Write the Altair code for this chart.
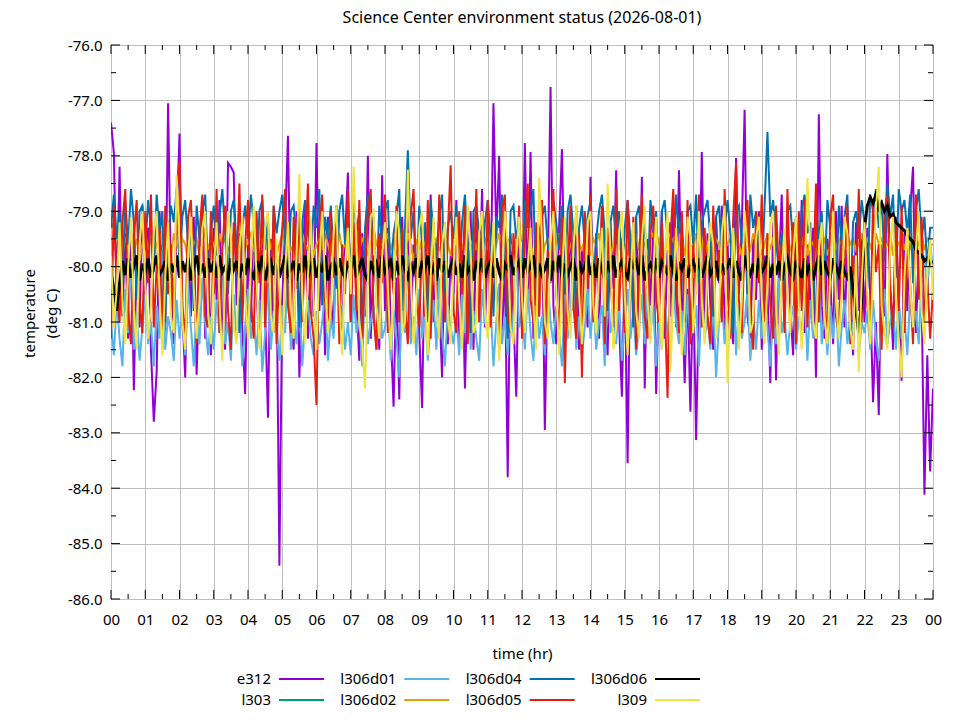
import altair as alt
import pandas as pd

# sample times in hours (5-minute samples over one day)
HOURS = [i / 12 for i in range(289)]

e312 = [
    -77.4, -77.95, -80.6, -78.2, -80.9, -79.4, -81.3, -79.1, -82.23, -79.8, -81.1, -78.9,
    -80.7, -79.3, -81.5, -82.8, -81.9, -79.0, -80.4, -81.2, -77.05, -80.3, -81.4, -79.2,
    -77.6, -80.8, -82.0, -79.5, -80.9, -79.1, -81.95, -80.2, -78.9, -81.3, -79.7, -81.6,
    -79.3, -80.6, -78.8, -81.2, -81.5, -78.13, -78.2, -78.3, -80.7, -79.4, -81.1, -82.3,
    -79.6, -81.0, -79.2, -80.5, -81.4, -78.9, -80.8, -82.73, -79.5, -81.2, -80.0, -85.4,
    -80.6, -79.3, -77.64, -80.9, -81.5, -79.0, -82.0, -80.3, -78.8, -81.3, -79.6, -80.9,
    -77.77, -80.8, -79.4, -81.6, -79.1, -80.5, -81.2, -78.9, -80.7, -81.4, -79.5, -78.3,
    -81.0, -79.2, -80.6, -81.7, -79.4, -80.9, -78.0, -81.3, -79.8, -80.5, -81.5, -78.35,
    -80.8, -79.3, -81.1, -82.53, -80.2, -82.4, -79.1, -80.7, -78.9, -81.3, -79.6, -80.4,
    -81.2, -82.55, -79.4, -80.9, -78.7, -81.0, -79.5, -80.6, -82.0, -79.2, -81.4, -79.8,
    -80.5, -78.8, -81.3, -79.6, -82.2, -80.1, -79.0, -81.5, -79.3, -80.8, -78.6, -81.1,
    -79.7, -80.4, -77.05, -79.5, -78.0, -81.2, -80.0, -83.8, -79.4, -80.9, -82.35, -79.6,
    -80.8, -77.77, -80.6, -77.93, -81.3, -79.5, -80.9, -79.0, -82.95, -80.2, -76.76, -80.7,
    -81.4, -79.3, -77.88, -80.6, -81.2, -79.1, -80.8, -78.9, -81.5, -79.7, -80.3, -81.1,
    -78.38, -80.9, -79.4, -81.3, -79.0, -80.6, -81.6, -79.2, -80.4, -78.26, -81.0, -82.35,
    -80.0, -83.55, -79.6, -80.8, -79.1, -81.2, -78.38, -82.2, -79.5, -80.7, -79.3, -82.3,
    -80.4, -79.0, -81.3, -79.7, -80.9, -78.8, -81.1, -78.26, -80.5, -82.1, -80.4, -82.62,
    -80.2, -83.13, -80.6, -77.93, -81.0, -79.4, -80.7, -81.5, -79.1, -80.3, -78.9, -81.2,
    -79.6, -80.8, -81.4, -78.04, -80.5, -79.3, -77.17, -80.9, -81.3, -79.5, -80.6, -79.0,
    -81.5, -79.8, -80.4, -82.1, -79.2, -82.05, -80.1, -78.7, -81.0, -79.4, -80.8, -81.6,
    -79.1, -80.5, -78.8, -81.2, -79.6, -80.9, -79.3, -82.0, -77.25, -80.7, -81.3, -79.5,
    -80.2, -81.4, -79.0, -80.6, -78.9, -81.1, -79.7, -80.4, -81.6, -79.2, -80.8, -79.5,
    -81.0, -79.3, -80.5, -82.45, -81.0, -82.68, -79.6, -80.9, -77.97, -80.3, -81.5, -79.1,
    -80.6, -82.06, -79.4, -80.8, -79.0, -78.2, -81.2, -79.7, -80.5, -84.12, -81.6, -83.7,
    -82.2,
]

# l303 only reports at the very start of the day
l303 = [-79.2, -79.3]

l306d01 = [
    -81.0, -81.6, -80.6, -81.3, -81.8, -80.4, -81.2, -79.9, -81.5, -80.8, -81.7, -81.1,
    -80.5, -81.4, -81.0, -81.8, -80.7, -81.3, -79.7, -81.5, -80.9, -81.2, -81.7, -80.6,
    -81.3, -80.8, -81.6, -80.3, -81.1, -81.8, -80.7, -81.4, -80.2, -81.0, -81.6, -80.9,
    -81.5, -80.6, -81.2, -79.8, -81.4, -81.0, -81.7, -80.5, -81.3, -80.8, -81.8, -81.1,
    -80.4, -81.3, -80.9, -81.6, -80.6, -81.9, -81.2, -80.3, -81.5, -80.8, -81.1, -81.7,
    -80.7, -81.2, -79.9, -81.5, -80.9, -81.4, -80.5, -81.8, -81.0, -80.6, -81.3, -81.6,
    -80.8, -81.4, -81.0, -80.4, -81.7, -80.9, -81.3, -79.6, -81.2, -80.7, -81.5, -81.0,
    -81.6, -80.5, -81.2, -80.9, -81.8, -80.3, -81.4, -81.0, -80.7, -81.5, -80.2, -81.3,
    -81.1, -80.6, -81.7, -80.8, -81.3, -82.0, -80.5, -81.2, -79.8, -81.4, -80.9, -81.6,
    -80.4, -81.3, -80.8, -81.7, -81.0, -80.6, -81.5, -80.2, -81.2, -81.8, -80.7, -81.1,
    -81.4, -80.9, -81.6, -80.5, -81.2, -79.9, -81.5, -80.8, -81.3, -81.7, -80.4, -81.0,
    -81.2, -80.7, -81.8, -81.0, -80.3, -81.4, -80.9, -81.6, -80.6, -81.3, -79.7, -81.1,
    -80.8, -81.5, -80.4, -81.2, -81.7, -80.6, -81.3, -80.9, -81.6, -80.2, -81.0, -81.4,
    -80.7, -81.2, -81.8, -80.5, -81.3, -80.8, -79.8, -81.5, -80.9, -81.6, -81.1, -80.4,
    -81.3, -80.6, -81.5, -81.0, -80.7, -81.8, -80.3, -81.2, -80.9, -81.4, -80.6, -81.7,
    -81.0, -80.4, -81.3, -80.8, -81.6, -81.1, -80.5, -81.4, -79.9, -81.2, -80.7, -81.8,
    -80.9, -81.5, -80.6, -81.2, -81.7, -80.3, -81.0, -81.4, -80.8, -81.6, -80.5, -81.3,
    -81.1, -80.7, -81.8, -80.4, -81.3, -80.9, -81.5, -80.6, -82.0, -81.0, -80.5, -81.4,
    -80.8, -81.2, -79.9, -81.6, -80.7, -81.3, -81.0, -80.4, -81.7, -80.9, -81.5, -80.6,
    -81.3, -80.5, -81.1, -81.8, -80.8, -81.4, -80.2, -81.2, -80.9, -81.6, -81.0, -80.7,
    -81.5, -80.9, -81.2, -80.4, -81.7, -80.6, -81.3, -81.0, -79.8, -81.4, -80.8, -81.6,
    -80.7, -81.3, -80.5, -81.8, -81.1, -80.6, -81.4, -80.9, -81.2, -80.3, -81.6, -81.0,
    -81.2, -80.8, -81.5, -80.6, -81.3, -81.7, -80.9, -80.4, -81.4, -81.0, -80.7, -81.5,
    -80.6, -81.3, -80.9, -81.6, -80.5, -81.1, -80.8, -81.4, -80.2, -79.8, -80.5, -79.6,
    -80.0,
]

l306d02 = [
    -79.5, -79.7, -79.4, -79.6, -79.8, -79.5, -79.6, -79.4, -79.7, -79.5, -79.9, -79.6,
    -79.4, -79.7, -79.5, -79.8, -79.6, -79.4, -79.6, -79.7, -79.5, -79.8, -79.4, -79.6,
    -79.7, -79.5, -79.6, -79.9, -79.4, -79.6, -79.5, -79.8, -79.6, -79.3, -79.7, -79.5,
    -79.6, -79.8, -79.4, -79.6, -79.5, -79.7, -79.6, -79.4, -79.8, -79.5, -79.6, -79.7,
    -79.5, -79.4, -79.7, -79.6, -79.8, -79.5, -79.6, -79.3, -79.7, -79.5, -79.8, -79.6,
    -79.4, -79.6, -79.5, -79.7, -79.6, -79.9, -79.5, -79.4, -79.6, -79.7, -79.5, -79.8,
    -79.6, -79.5, -79.7, -79.4, -79.6, -79.8, -79.5, -79.6, -79.4, -79.7, -79.6, -79.5,
    -79.8, -79.6, -79.4, -79.7, -79.5, -79.6, -79.8, -79.5, -79.3, -79.6, -79.7, -79.5,
    -79.6, -79.4, -79.7, -79.5, -79.8, -79.6, -79.5, -79.7, -79.4, -79.6, -79.9, -79.5,
    -79.7, -79.5, -79.6, -79.4, -79.8, -79.6, -79.5, -79.7, -79.6, -79.4, -79.6, -79.8,
    -79.5, -79.6, -79.4, -79.7, -79.5, -79.8, -79.6, -79.5, -79.7, -79.4, -79.6, -79.5,
    -79.7, -79.5, -79.8, -79.6, -79.4, -79.6, -79.7, -79.5, -79.6, -79.8, -79.4, -79.6,
    -79.5, -79.0, -78.9, -79.6, -79.8, -80.4, -80.8, -79.9, -79.6, -79.5, -79.7, -79.4,
    -79.6, -79.4, -79.7, -79.5, -79.8, -79.6, -79.5, -79.3, -79.6, -79.7, -79.5, -79.6,
    -79.8, -79.5, -79.6, -79.4, -79.7, -79.6, -79.5, -79.8, -79.6, -79.4, -79.7, -79.5,
    -79.6, -79.8, -79.5, -79.6, -79.4, -79.7, -79.5, -79.6, -79.8, -79.5, -79.4, -79.7,
    -79.5, -79.6, -79.8, -79.4, -79.6, -79.5, -79.7, -79.6, -79.4, -79.8, -79.5, -79.6,
    -79.7, -79.4, -79.6, -79.5, -79.8, -79.6, -79.4, -79.7, -79.5, -79.6, -79.8, -79.5,
    -79.6, -79.5, -79.7, -79.4, -79.6, -79.8, -79.5, -79.6, -79.7, -79.4, -79.6, -79.5,
    -79.8, -79.6, -79.4, -79.7, -79.5, -79.6, -79.8, -79.5, -79.6, -79.4, -79.7, -79.6,
    -79.5, -79.7, -79.6, -79.4, -79.8, -79.5, -79.6, -79.7, -79.4, -79.6, -79.5, -79.8,
    -79.6, -79.4, -79.7, -79.5, -79.6, -79.8, -79.4, -79.6, -79.5, -79.7, -79.6, -79.4,
    -79.7, -79.5, -79.6, -79.8, -79.4, -79.6, -79.5, -79.7, -79.6, -79.4, -79.8, -79.5,
    -79.6, -79.5, -79.7, -79.4, -79.6, -79.8, -79.5, -79.6, -79.4, -79.7, -79.5, -79.6,
    -79.6,
]

l306d04 = [
    -79.3, -78.7, -79.5, -79.0, -80.3, -78.8, -79.6, -78.6, -79.2, -80.6, -79.0, -78.9,
    -79.7, -78.8, -79.3, -80.1, -78.7, -79.4, -79.0, -81.0, -79.5, -78.9, -79.2, -78.6,
    -80.0, -79.1, -78.8, -79.6, -79.3, -80.8, -78.9, -79.5, -79.0, -78.7, -80.2, -79.4,
    -78.9, -79.8, -79.1, -78.6, -79.4, -80.5, -79.0, -78.8, -79.6, -81.2, -79.3, -78.9,
    -79.5, -78.7, -79.2, -80.4, -79.0, -78.8, -79.7, -79.1, -80.9, -78.9, -79.4, -79.0,
    -78.7, -79.6, -80.3, -79.0, -78.9, -79.5, -81.1, -79.2, -78.8, -79.4, -80.0, -78.9,
    -79.3, -78.6, -80.7, -79.1, -79.5, -78.9, -79.8, -80.4, -79.0, -78.7, -79.6, -79.2,
    -80.1, -78.8, -79.4, -79.0, -81.3, -79.3, -78.7, -79.5, -79.1, -80.5, -78.9, -79.6,
    -79.0, -78.8, -80.2, -79.4, -79.1, -78.6, -80.8, -79.3, -77.9, -79.5, -79.0, -80.4,
    -78.9, -79.6, -79.2, -81.0, -78.8, -79.4, -79.9, -79.1, -78.7, -80.6, -79.3, -79.0,
    -79.5, -78.9, -80.3, -79.2, -78.7, -79.6, -81.2, -79.0, -78.9, -79.4, -80.1, -79.2,
    -78.8, -79.5, -80.9, -79.1, -79.3, -78.7, -79.8, -81.3, -79.0, -78.9, -79.5, -79.2,
    -80.4, -78.8, -79.3, -79.0, -78.6, -80.7, -79.4, -79.1, -78.9, -79.6, -80.2, -78.8,
    -79.2, -79.7, -78.9, -80.5, -79.0, -78.7, -79.4, -81.0, -79.3, -78.9, -79.6, -79.1,
    -78.8, -80.3, -79.5, -79.0, -78.7, -79.4, -80.8, -79.2, -78.9, -79.6, -79.0, -80.1,
    -79.3, -78.8, -79.5, -81.1, -79.1, -78.9, -79.7, -79.2, -80.4, -78.8, -79.3, -79.0,
    -80.6, -79.0, -78.8, -79.5, -79.2, -80.2, -78.7, -79.4, -79.1, -81.0, -79.0, -78.9,
    -79.6, -78.7, -80.3, -79.2, -79.0, -78.8, -79.5, -80.9, -79.1, -78.9, -79.7, -79.3,
    -78.8, -79.4, -81.2, -79.0, -78.9, -79.6, -79.2, -80.5, -78.7, -79.3, -79.0, -79.8,
    -80.2, -78.9, -77.57, -79.1, -78.8, -79.5, -80.1, -79.4, -80.6, -79.0, -78.9, -79.6,
    -79.1, -80.8, -79.0, -78.7, -79.4, -79.2, -81.0, -78.9, -79.5, -79.0, -80.3, -78.8,
    -79.3, -79.0, -80.5, -78.9, -79.6, -79.1, -78.7, -80.9, -79.2, -79.0, -79.5, -78.8,
    -79.2, -80.4, -78.7, -79.0, -78.6, -79.3, -78.8, -79.9, -78.5, -79.1, -78.7, -80.2,
    -78.6, -79.0, -78.8, -79.4, -78.7, -80.3, -79.0, -78.6, -79.5, -79.1, -80.0, -79.3,
    -79.3,
]

l306d05 = [
    -81.3, -78.9, -80.4, -81.0, -79.2, -78.6, -80.8, -81.4, -79.5, -78.8, -80.6, -81.2,
    -79.0, -80.3, -78.7, -81.1, -80.0, -79.3, -81.5, -78.9, -80.5, -79.6, -81.0, -78.6,
    -78.1, -80.7, -81.3, -79.1, -78.8, -80.2, -81.4, -79.4, -78.7, -80.9, -81.1, -79.0,
    -80.5, -78.6, -81.2, -79.7, -78.9, -80.8, -81.5, -79.2, -80.1, -78.5, -81.0, -79.6,
    -78.8, -80.6, -81.3, -79.0, -80.3, -78.7, -81.1, -79.5, -80.9, -78.9, -81.4, -80.0,
    -79.3, -78.6, -80.7, -81.2, -79.1, -80.4, -78.8, -81.0, -79.7, -78.5, -80.8, -81.3,
    -82.5, -79.4, -78.7, -80.6, -81.1, -79.0, -80.2, -78.9, -81.4, -79.6, -80.5, -78.6,
    -81.0, -79.2, -80.8, -78.8, -81.3, -80.1, -79.0, -78.6, -80.9, -81.5, -79.4, -80.3,
    -78.7, -81.2, -79.8, -80.5, -78.9, -81.0, -79.3, -80.7, -81.4, -79.1, -78.6, -80.4,
    -81.1, -79.5, -80.9, -78.8, -81.3, -79.2, -80.6, -78.7, -80.1, -81.0, -79.4, -78.17,
    -80.8, -81.2, -79.0, -80.5, -78.9, -81.4, -79.7, -80.2, -78.6, -81.0, -79.3, -80.7,
    -78.8, -81.1, -79.5, -80.4, -81.5, -79.0, -78.7, -80.8, -81.2, -79.4, -80.1, -78.9,
    -81.3, -79.6, -78.5, -80.6, -81.0, -79.2, -80.9, -78.8, -81.4, -79.7, -80.3, -78.6,
    -80.5, -81.2, -79.1, -82.1, -80.0, -78.9, -80.7, -81.3, -79.4, -82.0, -79.0, -80.4,
    -78.7, -81.0, -79.8, -80.6, -78.9, -81.4, -79.3, -80.2, -81.1, -78.6, -80.8, -79.5,
    -81.2, -78.8, -80.4, -79.1, -81.5, -80.0, -78.7, -80.9, -81.3, -79.4, -78.9, -80.6,
    -81.0, -79.2, -80.7, -82.37, -79.5, -78.6, -80.3, -81.2, -79.0, -80.8, -78.8, -81.4,
    -79.6, -80.5, -78.7, -81.1, -79.3, -80.9, -81.4, -78.9, -80.2, -79.7, -81.0, -78.6,
    -80.4, -81.3, -79.1, -78.13, -80.6, -81.2, -79.5, -78.8, -80.9, -81.5, -79.0, -80.3,
    -78.7, -81.0, -79.4, -80.7, -81.3, -78.9, -80.1, -79.6, -81.2, -78.6, -80.5, -79.2,
    -81.4, -79.0, -80.8, -78.8, -81.1, -79.7, -80.3, -78.5, -81.0, -79.4, -80.6, -81.3,
    -79.1, -78.7, -80.9, -81.2, -79.5, -80.2, -78.9, -81.4, -79.8, -80.5, -78.6, -81.0,
    -79.3, -80.7, -81.3, -78.8, -80.1, -79.6, -81.5, -79.0, -78.7, -80.4, -81.1, -79.2,
    -80.8, -78.9, -81.2, -79.5, -80.3, -81.4, -78.7, -80.6, -79.1, -81.0, -80.2, -81.3,
    -80.4,
]

l306d06 = [
    -80.1, -80.4, -80.8, -80.3, -79.9, -80.15, -79.85, -80.2, -80.0, -79.8, -80.25, -79.95,
    -80.1, -79.85, -80.2, -80.0, -79.8, -80.15, -80.05, -79.9, -80.25, -79.95, -80.1, -79.8,
    -80.2, -79.9, -80.1, -79.85, -80.25, -80.0, -79.8, -80.15, -79.95, -80.2, -79.85, -80.1,
    -79.9, -80.2, -79.8, -80.1, -80.0, -80.25, -79.85, -80.05, -79.9, -80.2, -79.95, -80.15,
    -79.85, -80.1, -80.2, -79.9, -80.05, -79.8, -80.25, -80.0, -79.9, -80.15, -79.85, -80.2,
    -80.0, -79.8, -80.15, -80.05, -79.9, -80.25, -79.95, -80.1, -79.8, -80.2, -80.0, -79.85,
    -80.2, -79.95, -80.1, -79.8, -80.25, -80.0, -79.9, -80.15, -79.85, -80.1, -80.2, -79.9,
    -80.05, -79.8, -80.2, -80.0, -79.85, -80.15, -80.25, -79.9, -80.1, -79.95, -80.2, -79.8,
    -80.1, -80.0, -79.85, -80.25, -79.9, -80.15, -79.8, -80.05, -80.2, -79.95, -80.1, -79.85,
    -80.2, -79.9, -80.05, -79.8, -80.15, -80.0, -80.25, -79.85, -80.1, -79.9, -80.2, -80.0,
    -79.85, -80.15, -79.95, -80.2, -79.8, -80.1, -80.0, -80.25, -79.9, -80.05, -79.85, -80.2,
    -80.0, -79.9, -80.2, -79.85, -80.1, -80.25, -79.95, -80.05, -79.8, -80.15, -80.0, -79.9,
    -80.2, -79.85, -80.1, -80.0, -79.8, -80.2, -79.95, -80.15, -80.05, -79.85, -80.25, -79.9,
    -80.1, -79.8, -80.2, -79.95, -80.15, -80.0, -79.85, -80.25, -79.9, -80.1, -80.0, -79.8,
    -80.15, -79.95, -80.2, -79.85, -80.05, -80.25, -79.9, -80.1, -79.8, -80.2, -80.0, -79.9,
    -80.1, -80.2, -79.85, -80.0, -79.9, -80.15, -79.8, -80.25, -80.05, -79.95, -80.1, -79.85,
    -80.2, -79.9, -80.0, -80.15, -79.8, -80.1, -80.25, -79.95, -80.05, -79.85, -80.2, -80.0,
    -79.9, -80.1, -79.85, -80.2, -80.0, -79.8, -80.15, -80.05, -79.9, -80.25, -79.95, -80.1,
    -80.0, -79.85, -80.2, -79.9, -80.1, -80.25, -79.8, -80.05, -80.15, -79.95, -80.2, -79.85,
    -80.1, -80.0, -79.8, -80.2, -79.95, -80.15, -79.9, -80.25, -80.0, -79.85, -80.1, -80.2,
    -79.9, -80.05, -80.2, -79.85, -80.1, -79.95, -80.25, -80.0, -79.8, -80.15, -79.9, -80.1,
    -80.2, -79.85, -80.0, -80.15, -79.9, -80.1, -80.2, -80.0, -80.4, -80.8, -81.2, -80.6,
    -79.3, -78.9, -78.75, -78.85, -78.7, -78.95, -78.85, -79.0, -78.9, -79.1, -79.05, -79.2,
    -79.25, -79.3, -79.35, -79.45, -79.5, -79.55, -79.7, -79.75, -79.8, -79.9, -79.85, -79.95,
    -79.9,
]

l309 = [
    -79.8, -81.1, -80.4, -79.2, -80.6, -81.4, -80.0, -79.1, -80.8, -81.5, -79.6, -79.0,
    -80.3, -81.3, -80.7, -79.4, -79.0, -80.5, -81.6, -80.2, -79.2, -80.9, -81.2, -78.35,
    -79.6, -81.0, -81.5, -79.8, -79.1, -80.4, -81.3, -80.6, -79.3, -79.0, -80.8, -81.4,
    -80.1, -79.2, -80.6, -81.7, -80.3, -79.0, -79.5, -81.1, -81.4, -79.7, -79.1, -80.5,
    -81.3, -80.0, -78.9, -80.2, -81.5, -80.7, -79.3, -79.0, -80.9, -81.2, -79.5, -80.4,
    -81.6, -80.1, -79.2, -80.7, -81.3, -79.8, -78.33, -80.5, -81.4, -80.2, -79.1, -80.6,
    -81.5, -79.9, -79.0, -80.3, -81.2, -80.8, -79.4, -78.9, -80.6, -81.6, -80.0, -79.3,
    -80.5, -78.2, -79.6, -81.0, -81.4, -82.2, -80.3, -79.1, -79.0, -80.7, -81.3, -79.8,
    -79.2, -80.4, -81.5, -80.6, -79.0, -79.4, -81.2, -81.0, -78.25, -80.1, -81.4, -80.7,
    -79.3, -79.0, -80.5, -81.6, -80.2, -79.1, -80.8, -81.3, -79.6, -79.2, -80.9, -81.4,
    -80.0, -79.1, -80.6, -81.5, -80.3, -78.9, -79.7, -81.2, -81.0, -79.4, -79.0, -80.8,
    -81.3, -80.1, -79.2, -80.5, -81.7, -80.4, -79.0, -79.6, -81.1, -81.4, -79.8, -79.1,
    -80.6, -81.2, -80.0, -79.3, -80.7, -81.5, -78.4, -79.5, -81.0, -81.3, -79.6, -79.0,
    -80.4, -81.6, -80.2, -79.1, -80.8, -81.3, -79.7, -78.9, -80.5, -81.4, -80.6, -79.2,
    -79.0, -80.7, -81.2, -80.1, -79.3, -80.9, -78.5, -79.8, -81.5, -81.1, -79.4, -79.0,
    -80.5, -81.6, -80.3, -79.2, -80.8, -81.3, -79.5, -78.9, -80.6, -81.4, -80.1, -79.1,
    -80.7, -81.5, -79.9, -79.0, -81.9, -80.5, -79.3, -80.2, -81.6, -80.8, -79.1, -79.5,
    -81.2, -80.4, -79.0, -80.6, -81.4, -80.0, -79.2, -79.6, -81.3, -80.9, -79.4, -78.9,
    -82.1, -80.7, -79.3, -80.2, -81.5, -80.6, -79.0, -79.7, -81.2, -81.0, -79.5, -79.1,
    -80.6, -81.4, -80.3, -79.2, -79.0, -80.8, -81.6, -80.1, -79.3, -80.5, -81.2, -79.8,
    -79.1, -80.7, -81.5, -80.4, -78.4, -79.6, -81.0, -81.3, -79.7, -79.2, -80.9, -81.4,
    -80.2, -79.0, -80.6, -81.3, -80.5, -79.1, -79.4, -81.1, -81.5, -79.8, -81.9, -80.3,
    -79.2, -80.5, -81.4, -80.1, -79.0, -78.2, -80.7, -81.2, -81.5, -79.6, -79.1, -80.6,
    -81.3, -82.0, -80.2, -79.3, -80.4, -81.1, -79.7, -79.0, -80.8, -81.4, -80.1, -79.5,
    -80.6,
]

SERIES = ["e312", "l303", "l306d01", "l306d02", "l306d04", "l306d05", "l306d06", "l309"]
VALUES = [e312, l303, l306d01, l306d02, l306d04, l306d05, l306d06, l309]
COLORS = ["#9400d3", "#009e73", "#56b4e9", "#e69f00", "#0072b2", "#e51e10", "#000000", "#f0e442"]
LEG_COL = [0, 0, 1, 1, 2, 2, 3, 3]
LEG_ROW = [0, 1, 0, 1, 0, 1, 0, 1]

X_TICKS = list(range(0, 25))
X_MINOR = [h + 0.5 for h in range(0, 24)]
Y_TICKS = list(range(-86, -75))
Y_MINOR = [v + 0.5 for v in range(-86, -76)]

FONT = "Noto Sans"
FS = 15
GRID = "#c0c0c0"

xenc = alt.X(
    "t:Q",
    scale=alt.Scale(domain=[0, 24], nice=False, zero=False),
    axis=alt.Axis(
        values=X_TICKS,
        labelExpr="(datum.value % 24) < 10 ? '0' + (datum.value % 24) : '' + (datum.value % 24)",
        grid=True, ticks=False, domain=False, labelPadding=13, labelFlush=False,
        title="time (hr)", titlePadding=19,
    ),
)
yenc = alt.Y(
    "v:Q",
    scale=alt.Scale(domain=[-86, -76], nice=False, zero=False),
    axis=alt.Axis(
        values=Y_TICKS, format=".1f",
        labelExpr="replace(datum.label, '\u2212', '-')",
        grid=True, ticks=False, domain=False, labelPadding=9, labelFlush=False,
        title=["temperature", "(deg C)"], titleLineHeight=22,
        titleAngle=-90, titleX=-82, titleY=268, titleAlign="center", titleBaseline="middle",
    ),
)

layers = []
for name, vals, col in zip(SERIES, VALUES, COLORS):
    d = pd.DataFrame({"t": HOURS[: len(vals)], "v": vals})
    layers.append(
        alt.Chart(d).mark_line(color=col, strokeWidth=3 if name == "l306d06" else 2, clip=True)
        .encode(x=xenc, y=yenc)
    )


def vticks(times, edge, off):
    d = pd.DataFrame({"t": times, "v": [edge] * len(times)})
    return alt.Chart(d).mark_rule(color="black", strokeWidth=1, y2Offset=off).encode(
        x=xenc, y=yenc, y2=alt.Y2("v"))


def hticks(vals, edge, off):
    d = pd.DataFrame({"t": [edge] * len(vals), "v": vals})
    return alt.Chart(d).mark_rule(color="black", strokeWidth=1, x2Offset=off).encode(
        x=xenc, x2=alt.X2("t"), y=yenc)


layers += [
    vticks(X_TICKS, -86, -9), vticks(X_MINOR, -86, -5),
    vticks(X_TICKS, -76, 9), vticks(X_MINOR, -76, 5),
    hticks(Y_TICKS, 0, 9), hticks(Y_MINOR, 0, 5),
    hticks(Y_TICKS, 24, -9), hticks(Y_MINOR, 24, -5),
]

main = alt.layer(*layers)

leg_df = pd.DataFrame({"name": SERIES, "col": LEG_COL, "row": LEG_ROW})
lx = alt.X("col:Q", scale=alt.Scale(domain=[0, 3], range=[160, 536]), axis=None)
ly = alt.Y("row:Q", scale=alt.Scale(domain=[0, 1], range=[634, 655]), axis=None)
leg_text = alt.Chart(leg_df).mark_text(
    align="right", baseline="middle", font=FONT, fontSize=FS, color="black"
).encode(x=lx, y=ly, text="name:N")
leg_line = alt.Chart(leg_df).mark_rule(strokeWidth=2, xOffset=8, x2Offset=53).encode(
    x=lx, x2=alt.X2("col"), y=ly,
    color=alt.Color("name:N", scale=alt.Scale(domain=SERIES, range=COLORS), legend=None),
)
legend = alt.layer(leg_text, leg_line)

chart = (
    alt.layer(main, legend)
    .resolve_scale(x="independent", y="independent")
    .properties(
        width=822, height=554,
        autosize=alt.AutoSizeParams(type="none"),
        padding={"left": 103, "top": 37, "right": 19, "bottom": 120},
        title=alt.TitleParams(
            "Science Center environment status (2026-08-01)",
            font=FONT, fontSize=16, fontWeight="normal", color="black",
            anchor="middle", offset=12,
        ),
    )
    .configure_view(stroke="black", strokeWidth=1)
    .configure_axis(
        labelFont=FONT, titleFont=FONT, labelFontSize=FS, titleFontSize=FS,
        titleFontWeight="normal", labelColor="black", titleColor="black",
        gridColor=GRID, gridWidth=1, gridOpacity=1,
    )
)

chart.save("out.html", embed_options={"renderer": "svg", "actions": False})
